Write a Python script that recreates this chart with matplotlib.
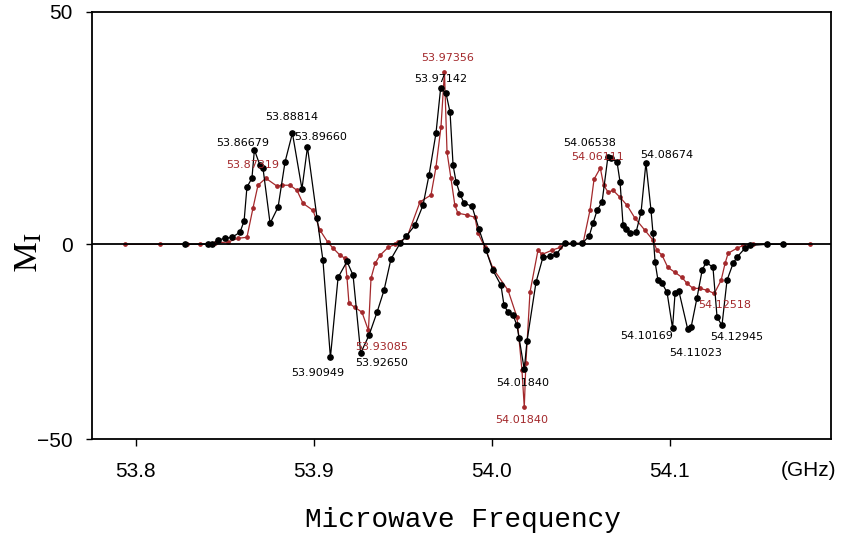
import numpy as np
import matplotlib
matplotlib.use('Agg')
import matplotlib.pyplot as plt

# --- traces (frequency in GHz, M_I) ---
black_freq = [53.8278, 53.8407, 53.8430, 53.8463, 53.8503, 53.8542, 53.8587, 53.8610,
              53.8626, 53.8654, 53.86679, 53.8699, 53.8716, 53.8756, 53.8801, 53.8840,
              53.88814, 53.8935, 53.89660, 53.9020, 53.9053, 53.90949, 53.9138, 53.9188,
              53.9222, 53.92650, 53.9312, 53.9357, 53.9396, 53.9435, 53.9486, 53.9520,
              53.9570, 53.9615, 53.9649, 53.9688, 53.97142, 53.9744, 53.9767, 53.9784,
              53.9801, 53.9823, 53.9846, 53.9890, 53.9930, 53.9969, 54.0008, 54.0053,
              54.0070, 54.0093, 54.0121, 54.0143, 54.0155, 54.01840, 54.0199, 54.0250,
              54.0289, 54.0329, 54.0362, 54.0413, 54.0458, 54.0508, 54.0548, 54.0570,
              54.0593, 54.0621, 54.06538, 54.0671, 54.0705, 54.0722, 54.0739, 54.0756,
              54.0778, 54.0812, 54.0840, 54.08674, 54.0896, 54.0907, 54.0919, 54.0935,
              54.0958, 54.0986, 54.10169, 54.1031, 54.1053, 54.11023, 54.1121, 54.1154,
              54.1183, 54.1205, 54.1244, 54.1267, 54.12945, 54.1323, 54.1357, 54.1379,
              54.1424, 54.1452, 54.1548, 54.1638]
black_mi = [0.0, 0.0, 0.0, 0.9, 1.3, 1.5, 2.6, 5.0,
            12.3, 14.2, 20.3, 17.0, 16.4, 4.5, 8.0, 17.7,
            23.9, 11.9, 20.9, 5.6, -4.1, -29.0, -8.5, -4.4,
            -7.9, -27.9, -23.3, -17.4, -11.8, -3.8, 0.2, 1.7,
            4.1, 8.4, 14.9, 23.9, 33.6, 32.5, 28.4, 17.0,
            13.4, 10.8, 8.8, 8.2, 3.2, -1.5, -6.7, -10.5,
            -15.6, -17.4, -18.2, -20.8, -24.1, -32.1, -24.9, -9.7,
            -3.3, -3.1, -2.6, 0.2, 0.2, 0.2, 1.7, 4.5,
            7.3, 9.1, 18.8, 18.5, 17.7, 13.4, 4.1, 3.2,
            2.4, 2.6, 6.9, 17.5, 7.3, 2.4, -4.6, -9.2,
            -10.0, -12.3, -21.5, -12.6, -12.1, -21.8, -21.3, -13.8,
            -6.7, -4.6, -5.9, -18.7, -20.8, -9.2, -4.9, -3.3,
            -1.0, -0.3, 0.0, 0.0]

red_freq = [53.7941, 53.8138, 53.8289, 53.8362, 53.8447, 53.8520, 53.8576, 53.8626,
            53.8660, 53.8688, 53.87319, 53.8795, 53.8823, 53.8868, 53.8907, 53.8941,
            53.8997, 53.9037, 53.9081, 53.9110, 53.9149, 53.9177, 53.9188, 53.9199,
            53.9233, 53.9272, 53.93085, 53.9323, 53.9346, 53.9374, 53.9419, 53.9458,
            53.9475, 53.9525, 53.9598, 53.9660, 53.9688, 53.9716, 53.97356, 53.9750,
            53.9772, 53.9794, 53.9811, 53.9862, 53.9907, 53.9924, 53.9963, 54.0008,
            54.0093, 54.0143, 54.0171, 54.01840, 54.0193, 54.0216, 54.0261, 54.0284,
            54.0340, 54.0385, 54.0419, 54.0514, 54.0553, 54.0576, 54.06111, 54.0630,
            54.0655, 54.0683, 54.0722, 54.0761, 54.0806, 54.0862, 54.0907, 54.0929,
            54.0958, 54.0990, 54.1031, 54.1070, 54.1098, 54.1132, 54.1171, 54.1211,
            54.12518, 54.1290, 54.1312, 54.1329, 54.1379, 54.1413, 54.1469, 54.1638,
            54.1789]
red_mi = [0.0, 0.0, 0.0, 0.0, 0.3, 0.5, 1.3, 1.5,
          7.8, 12.7, 14.2, 12.5, 12.7, 12.7, 11.6, 8.8,
          7.3, 3.0, 0.4, -1.0, -2.8, -3.6, -8.5, -15.1,
          -16.2, -17.4, -22.1, -8.7, -4.9, -2.8, -0.8, 0.0,
          0.4, 1.5, 9.1, 10.6, 16.6, 25.2, 37.1, 19.8,
          14.2, 8.4, 6.7, 6.3, 5.8, 2.4, -0.8, -6.2,
          -11.8, -18.7, -32.3, -41.8, -30.5, -12.3, -1.5, -2.6,
          -1.5, -0.8, 0.2, 0.2, 7.3, 14.0, 16.4, 12.7,
          11.2, 11.6, 10.1, 8.4, 5.6, 3.0, 0.9, -1.5,
          -2.8, -5.9, -7.2, -8.5, -10.0, -11.3, -11.3, -11.8,
          -12.6, -9.2, -4.9, -2.3, -1.0, -0.3, 0.0, 0.0,
          0.0]

# line labels: text, x, y
black_labels = [('53.86679', 53.8604, 21.8), ('53.88814', 53.8879, 27.4),
                ('53.89660', 53.9042, 23.1), ('53.97142', 53.9716, 35.6),
                ('53.90949', 53.9025, -33.1), ('53.92650', 53.9385, -30.5),
                ('54.01840', 54.0177, -35.6), ('54.06538', 54.0553, 21.8),
                ('54.08674', 54.0986, 19.2), ('54.10169', 54.0874, -23.6),
                ('54.11023', 54.1149, -27.9), ('54.12945', 54.1379, -23.8)]
red_labels = [('53.87319', 53.8660, 17.0), ('53.97356', 53.9756, 40.1),
              ('53.93085', 53.9385, -26.4), ('54.01840', 54.0171, -45.1),
              ('54.06111', 54.0593, 18.75), ('54.12518', 54.1312, -15.6)]

x_ticks = [53.8, 53.9, 54.0, 54.1]
x_ticklabels = ['53.8', '53.9', '54.0', '54.1']
y_ticks = [-50, 0, 50]

RED = '#a3282b'

# positive half of the axis is drawn taller than the negative half
K_POS = 1.193


def fwd(y):
    y = np.asarray(y, dtype=float)
    return np.where(y > 0, y * K_POS, y)


def inv(y):
    y = np.asarray(y, dtype=float)
    return np.where(y > 0, y / K_POS, y)


plt.rcParams['mathtext.fontset'] = 'stix'

fig = plt.figure(figsize=(8.48, 5.39), dpi=100)
ax = fig.add_axes([0.1085, 0.1850, 0.8715, 0.7933])
ax.set_yscale('function', functions=(fwd, inv))

ax.plot(red_freq, red_mi, '-o', color=RED, lw=0.9, ms=2.4, zorder=2)
ax.axhline(0, color='black', lw=1.3, zorder=3)
ax.plot(black_freq, black_mi, '-o', color='black', lw=0.9, ms=3.8, zorder=4)

for txt, x, y in black_labels:
    ax.text(x, y, txt, color='black', fontsize=8, ha='center', va='center', zorder=5)
for txt, x, y in red_labels:
    ax.text(x, y, txt, color=RED, fontsize=8, ha='center', va='center', zorder=5)

ax.set_xlim(53.77556, 54.19073)
ax.set_ylim(-50, 50)
ax.set_xticks(x_ticks)
ax.set_xticklabels(x_ticklabels)
ax.set_yticks(y_ticks)
ax.set_yticklabels(['\u221250', '0', '50'])
ax.minorticks_off()

for lab in ax.get_xticklabels() + ax.get_yticklabels():
    lab.set_fontfamily('Liberation Sans')
    lab.set_fontsize(15)
ax.tick_params(axis='x', direction='out', length=5, width=1.0, pad=11)
ax.tick_params(axis='y', direction='out', length=4, width=1.0, pad=10)
for sp in ax.spines.values():
    sp.set_linewidth(1.3)

fig.text(809 / 848, 1 - 470 / 539, '(GHz)', fontsize=15, family='Liberation Sans',
         ha='center', va='center')
fig.text(463 / 848, 1 - 520 / 539, 'Microwave Frequency', fontsize=20,
         family='Liberation Mono', ha='center', va='center')
fig.text(28 / 848, 1 - 252 / 539, r'$\mathrm{M_I}$', fontsize=24, rotation=90,
         ha='center', va='center')

fig.savefig('out.png', dpi=100)
